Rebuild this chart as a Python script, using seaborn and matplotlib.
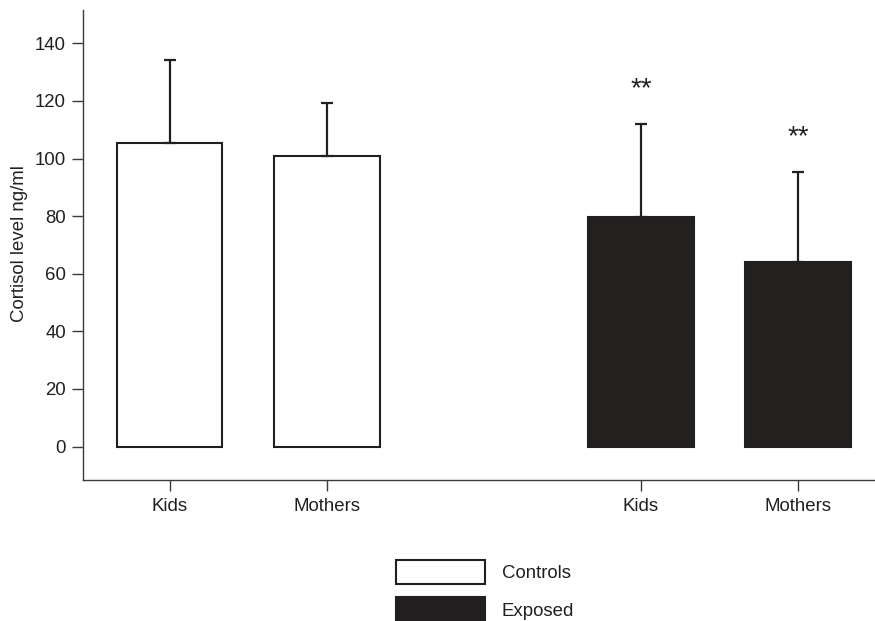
import pandas as pd
import matplotlib.pyplot as plt
import matplotlib.patches as mpatches
import seaborn as sns

# ==========================================
# Data
# ==========================================

groups = ["Controls", "Controls", "Exposed", "Exposed"]
subjects = ["Kids", "Mothers", "Kids", "Mothers"]
means = [105.5, 100.8, 79.7, 64.1]
sds = [28.7, 18.4, 32.4, 31.2]
significant = [False, False, True, True]

INK = "#231f20"

df = pd.DataFrame({
    "group": groups,
    "subject": subjects,
    "mean": means,
    "sd": sds,
})
df["slot"] = df["group"] + " " + df["subject"]

# empty slot between the two groups
order = ["Controls Kids", "Controls Mothers", "", "Exposed Kids", "Exposed Mothers"]

# ==========================================
# Plot
# ==========================================

sns.set_style("ticks")
plt.rcParams["font.family"] = ["Liberation Sans", "DejaVu Sans"]
plt.rcParams["text.color"] = INK
plt.rcParams["axes.labelcolor"] = INK
plt.rcParams["xtick.color"] = INK
plt.rcParams["ytick.color"] = INK

fig = plt.figure(figsize=(8.75, 6.21), dpi=100)
ax = fig.add_axes([0.0945, 0.2271, 0.9055, 0.7568])

sns.barplot(
    data=df,
    x="slot",
    y="mean",
    hue="group",
    order=order,
    palette={"Controls": "white", "Exposed": INK},
    edgecolor=INK,
    linewidth=1.5,
    width=0.673,
    dodge=False,
    errorbar=None,
    legend=False,
    ax=ax,
)

# bar centres in data order
bars = sorted(ax.patches, key=lambda p: p.get_x())
centres = [b.get_x() + b.get_width() / 2 for b in bars]

ax.errorbar(
    centres,
    means,
    yerr=[[0] * len(sds), sds],
    fmt="none",
    ecolor=INK,
    elinewidth=1.6,
    capsize=4.5,
    capthick=1.6,
    zorder=1,
)

for x, m, s, sig in zip(centres, means, sds, significant):
    if sig:
        ax.text(x, m + s + 12, "**", ha="center", va="center",
                fontsize=20, color=INK)

ax.set_xlim(-0.553, 4.49)
ax.set_ylim(-11.6, 151.6)
ax.set_yticks(range(0, 141, 20))
ax.set_xticks(centres)
ax.set_xticklabels(subjects)

ax.set_xlabel("")
ax.set_ylabel("")
fig.text(20 / 875, 1 - 244 / 621, "Cortisol level ng/ml", rotation=90,
         ha="center", va="center", fontsize=13.4)

sns.despine(ax=ax)
for side in ["left", "bottom"]:
    ax.spines[side].set_color("#3a3a3a")
    ax.spines[side].set_linewidth(1.0)
ax.tick_params(axis="both", labelsize=13.4, length=8, width=1.0,
               color="#3a3a3a")
ax.tick_params(axis="y", pad=4)
ax.tick_params(axis="x", pad=5)

# ==========================================
# Legend
# ==========================================

handles = [
    mpatches.Patch(facecolor="white", edgecolor=INK, linewidth=1.5, label="Controls"),
    mpatches.Patch(facecolor=INK, edgecolor=INK, linewidth=1.5, label="Exposed"),
]
fig.legend(
    handles=handles,
    loc="upper left",
    bbox_to_anchor=(395.7 / 875, 1 - 560 / 621),
    frameon=False,
    fontsize=13.4,
    handlelength=4.8,
    handleheight=1.61,
    handletextpad=0.9,
    labelspacing=0.72,
    borderpad=0,
    borderaxespad=0,
)

plt.savefig("out.png", dpi=100)
